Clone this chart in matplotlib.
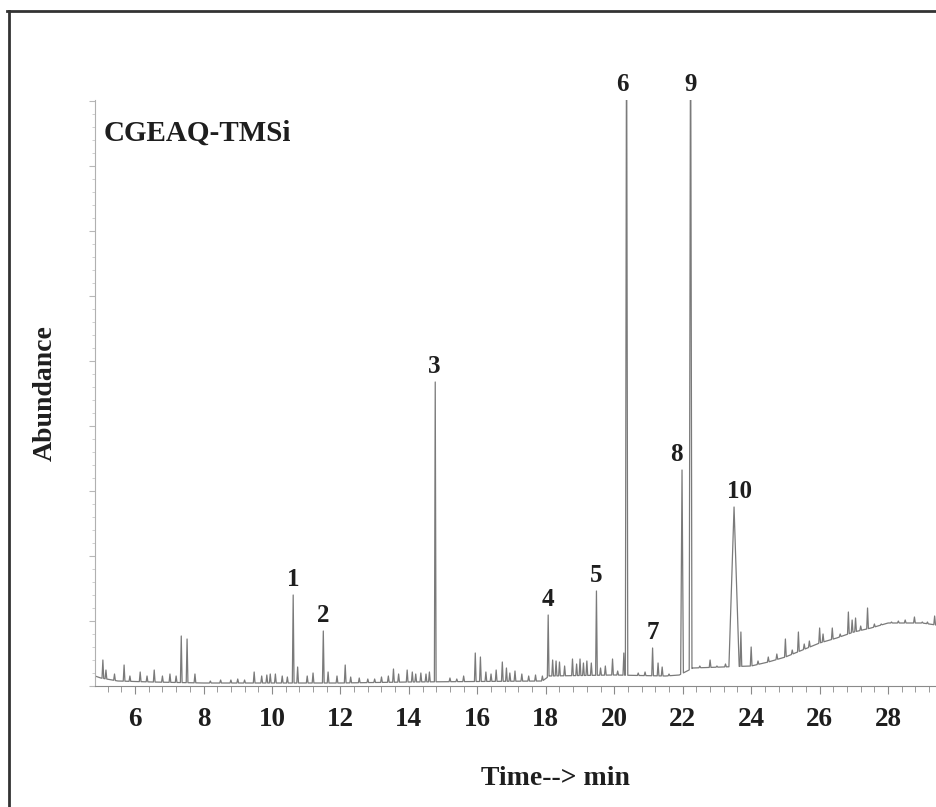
import matplotlib
matplotlib.use("Agg")
import matplotlib.pyplot as plt
from matplotlib.lines import Line2D
from matplotlib.ticker import MultipleLocator, NullFormatter
import numpy as np

plt.rcParams['font.family'] = ['Liberation Serif', 'DejaVu Serif']
plt.rcParams['font.weight'] = 'bold'

# baseline of the TIC trace (time in min, abundance in arbitrary units)
base_t = [4.83, 5.0, 5.5, 6.5, 8.0, 10.0, 12.0, 14.0, 17.9, 18.1, 20.0, 21.5,
          21.9, 22.3, 24.0, 24.5, 25.0, 26.0, 26.5, 27.0, 27.5, 28.0, 29.0, 29.4]
base_y = [10, 8, 5, 4, 3, 3, 3, 4, 5, 10, 11, 10,
          11, 18, 20, 24, 29, 43, 48, 54, 58, 63, 63, 61]

# labelled peaks: retention time, apex abundance, half width
peak_labels = ['1', '2', '3', '4', '5', '6', '7', '8', '9', '10']
peak_t = [10.62, 11.50, 14.77, 18.07, 19.48, 20.36, 21.12, 21.98, 22.23, 23.50]
peak_h = [91, 55, 304, 71, 95, 700, 38, 216, 700, 179]
peak_w = [0.025, 0.025, 0.025, 0.025, 0.025, 0.035, 0.025, 0.04, 0.04, 0.15]
label_dx = [0, 0, -1, 0, 0, -3, 0, -4, 0, 4]

# small unlabelled peaks
minor_t = [5.06, 5.15, 5.4, 5.68, 5.85, 6.15, 6.35, 6.56, 6.8, 7.02, 7.2, 7.35,
           7.52, 7.75, 8.2, 8.5, 8.8, 9.0, 9.2, 9.48, 9.7, 9.85, 9.95, 10.1,
           10.3, 10.45, 10.75, 11.03, 11.2, 11.64, 11.9, 12.14, 12.3, 12.55,
           12.8, 13.0, 13.2, 13.4, 13.55, 13.7, 13.95, 14.1, 14.2, 14.35, 14.5,
           14.6, 15.2, 15.4, 15.6, 15.94, 16.09, 16.25, 16.4, 16.55, 16.73,
           16.85, 16.95, 17.1, 17.3, 17.5, 17.7, 17.9, 18.2, 18.3, 18.4, 18.55,
           18.78, 18.9, 19.0, 19.1, 19.2, 19.33, 19.6, 19.74, 19.95, 20.1,
           20.28, 20.7, 20.9, 21.28, 21.4, 21.6, 22.5, 22.8, 23.0, 23.25, 23.7,
           24.0, 24.2, 24.5, 24.75, 25.0, 25.2, 25.38, 25.55, 25.7, 26.0, 26.1,
           26.37, 26.6, 26.84, 26.95, 27.05, 27.2, 27.4, 27.6, 27.8, 28.1,
           28.3, 28.5, 28.77, 29.0, 29.15, 29.36]
minor_h = [26, 16, 12, 21, 10, 14, 10, 16, 10, 12, 10, 50,
           47, 12, 5, 6, 6, 7, 6, 14, 10, 11, 12, 12,
           10, 9, 19, 10, 13, 14, 10, 21, 9, 8,
           7, 7, 9, 10, 17, 12, 16, 14, 12, 13, 12,
           14, 8, 7, 10, 33, 29, 14, 12, 16, 24,
           18, 13, 15, 12, 10, 11, 10, 26, 25, 24, 20,
           27, 22, 27, 23, 25, 23, 18, 20, 27, 15,
           33, 13, 14, 23, 19, 12, 20, 26, 20, 22, 54,
           39, 25, 29, 32, 47, 36, 54, 42, 45, 58, 52,
           58, 52, 74, 66, 68, 60, 78, 62, 62, 64,
           65, 66, 69, 64, 64, 70]

# build trace vertices
all_t = list(peak_t) + list(minor_t)
all_h = list(peak_h) + list(minor_h)
all_w = list(peak_w) + [0.025] * len(minor_t)
pts = []
for t, y in zip(base_t, base_y):
    if all(abs(t - pt) > w for pt, w in zip(all_t, all_w)):
        pts.append((t, y))
for t, h, w in zip(all_t, all_h, all_w):
    pts.append((t - w, np.interp(t - w, base_t, base_y)))
    pts.append((t, h))
    pts.append((t + w, np.interp(t + w, base_t, base_y)))
pts.sort()
tr_t = [p[0] for p in pts]
tr_y = [p[1] for p in pts]

fig = plt.figure(figsize=(9.36, 8.07), dpi=100)
ax = fig.add_axes([95 / 936, 121 / 807, 841 / 936, 586 / 807])

ax.plot(tr_t, tr_y, color='#7a7a7a', lw=0.9)
ax.set_xlim(4.83, 29.4)
ax.set_ylim(0, 586)

for lab, t, h, dx in zip(peak_labels, peak_t, peak_h, label_dx):
    ax.annotate(lab, (t, min(h, 586)), xytext=(dx, 11), textcoords='offset points',
                ha='center', va='center', fontsize=18, fontweight='bold',
                color='#1e1e1e', annotation_clip=False)

ax.text(0.01, 0.944, 'CGEAQ-TMSi', transform=ax.transAxes, fontsize=21,
        fontweight='bold', color='#1e1e1e', va='center', ha='left')

for s in ['top', 'right']:
    ax.spines[s].set_visible(False)
ax.spines['bottom'].set_color('#8a8a8a')
ax.spines['left'].set_color('#b0b0b0')

ax.xaxis.set_major_locator(MultipleLocator(2))
ax.xaxis.set_minor_locator(MultipleLocator(0.4))
ax.tick_params(axis='x', which='major', length=6, color='#8a8a8a', pad=9,
               labelsize=19.5, labelcolor='#1e1e1e')
ax.tick_params(axis='x', which='minor', length=4, color='#8a8a8a')
ax.set_xticks(np.arange(6, 30, 2))

ax.yaxis.set_major_locator(MultipleLocator(65))
ax.yaxis.set_minor_locator(MultipleLocator(13))
ax.yaxis.set_major_formatter(NullFormatter())
ax.tick_params(axis='y', which='major', length=4, color='#b8b8b8')
ax.tick_params(axis='y', which='minor', length=2, color='#c8c8c8')

ax.set_xlabel('Time--> min', fontsize=20, fontweight='bold', color='#1e1e1e', va='center')
ax.xaxis.set_label_coords(0.547, -0.157)
ax.set_ylabel('Abundance', fontsize=20, fontweight='bold', color='#1e1e1e', va='center')
ax.yaxis.set_label_coords(-0.0595, 0.5)

# outer frame of the figure panel (only left and top edges visible)
fig.add_artist(Line2D([8.5 / 936, 8.5 / 936], [0, 1 - 11 / 807], color='#333333', lw=2,
                      transform=fig.transFigure))
fig.add_artist(Line2D([7.5 / 936, 1], [1 - 11 / 807, 1 - 11 / 807], color='#333333', lw=2,
                      transform=fig.transFigure))

fig.savefig('out.png', dpi=100)
